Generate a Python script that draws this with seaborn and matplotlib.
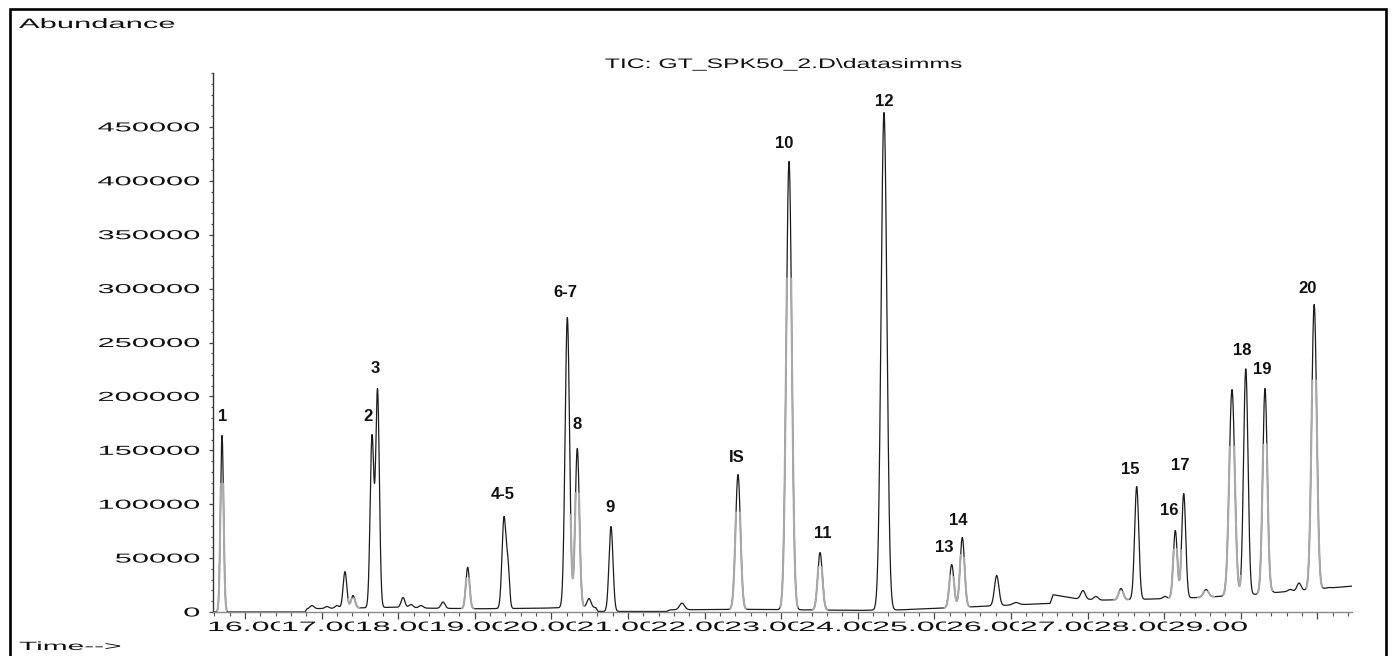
import numpy as np
import pandas as pd
import seaborn as sns
import matplotlib
matplotlib.use("Agg")
import matplotlib.pyplot as plt
from matplotlib.patheffects import AbstractPathEffect
from matplotlib.transforms import Affine2D
from matplotlib.path import Path
from matplotlib.patches import Rectangle
from matplotlib.ticker import MultipleLocator

# ---------------- data ----------------
# retention time (min), apex abundance, peak sigma (min)
peak_time = [15.700, 16.875, 17.070, 17.201, 17.305, 17.410, 17.658, 17.730,
             18.063, 18.167, 18.298, 18.585, 18.907, 19.381, 19.433, 20.208,
             20.338, 20.491, 20.778, 21.705, 22.436, 23.102, 23.507, 24.342,
             25.226, 25.364, 25.813, 26.065, 26.940, 27.110, 27.436, 27.641,
             28.010, 28.145, 28.255, 28.546, 28.885, 29.065, 29.316, 29.394,
             29.642, 29.760, 29.958, 30.149]
peak_apex = [163700, 6000, 5100, 6000, 37500, 15300, 164600, 207300,
             13500, 7000, 6000, 9300, 41500, 88600, 50500, 273200,
             151700, 12500, 79300, 8200, 127500, 417900, 55200, 463300,
             44000, 69100, 33900, 8800, 19900, 14400, 21800, 116400,
             14400, 75600, 109900, 20900, 206400, 225600, 207300, 25500,
             20900, 26900, 285200, 22700]
peak_sigma = [0.020, 0.026, 0.026, 0.026, 0.024, 0.026, 0.024, 0.024,
              0.024, 0.026, 0.026, 0.026, 0.024, 0.026, 0.020, 0.029,
              0.027, 0.026, 0.026, 0.033, 0.032, 0.036, 0.030, 0.038,
              0.029, 0.029, 0.029, 0.039, 0.029, 0.029, 0.029, 0.027,
              0.026, 0.026, 0.026, 0.033, 0.036, 0.029, 0.030, 0.026,
              0.026, 0.026, 0.033, 0.026]
# baseline anchor points (min, abundance)
base_time = [15.582, 16.783, 16.810, 17.240, 18.020, 18.420, 19.070, 19.850,
             20.440, 20.580, 20.610, 21.500, 21.550, 22.460, 23.250, 24.030,
             24.550, 25.070, 25.860, 26.510, 26.550, 26.840, 27.160, 27.810,
             28.470, 29.120, 29.770, 30.452]
base_level = [0, 0, 3000, 3500, 4500, 3500, 3000, 3500,
              4500, 4000, 500, 500, 2000, 2500, 2000, 1500,
              2000, 3500, 6000, 8000, 16000, 12500, 11000, 12000,
              13500, 16000, 20000, 24000]
# compound labels and the peak (index) they belong to
label_text = ["1", "2", "3", "4-5", "6-7", "8", "9", "IS", "10", "11", "12",
              "13", "14", "15", "16", "17", "18", "19", "20"]
label_peak = [0, 6, 7, 13, 15, 16, 18, 20, 21, 22, 23,
              24, 25, 31, 33, 34, 37, 38, 42]
x_tick_minutes = list(range(16, 30))
y_tick_values = list(range(0, 450001, 50000))
title_text = "TIC: GT_SPK50_2.D\\datasimms"

# ---------------- styles / layout ----------------
gray_peaks = {0, 5, 12, 16, 20, 21, 22, 24, 25, 30, 33, 35, 36, 38, 42}
label_offset_px = [(1, -19), (-4, -18), (-2, -20), (-1, -22), (-2, -25), (0, -24),
                   (-1, -19), (-1, -17), (-5, -18), (3, -19), (0, -11), (-7, -17),
                   (-4, -17), (-6, -17), (-6, -20), (-3, -28), (-4, -18), (-3, -19),
                   (-7, -16)]
W, H = 1396, 656


class Stretch(AbstractPathEffect):
    """Draw text horizontally stretched (text stays a real Text artist)."""
    def __init__(self, sx, anchor="left", bg=None):
        super().__init__((0, 0))
        self.sx, self.anchor, self.bg = sx, anchor, bg

    def draw_path(self, renderer, gc, tpath, affine, rgbFace=None):
        ext = tpath.get_extents()
        if self.anchor == "right":
            x0 = ext.x1
        elif self.anchor == "center":
            x0 = 0.5 * (ext.x0 + ext.x1)
        else:
            x0 = 0.0
        tr = Affine2D().translate(-x0, 0).scale(self.sx, 1).translate(x0, 0) + affine
        if self.bg is not None:
            h = ext.y1 - ext.y0
            bx0, bx1 = -0.02 * h, ext.x1 + 0.02 * h
            by0, by1 = ext.y0 - 0.15 * h, ext.y1 + 0.15 * h
            rect = Path([[bx0, by0], [bx1, by0], [bx1, by1], [bx0, by1], [bx0, by0]], closed=True)
            gc0 = renderer.new_gc()
            gc0.copy_properties(gc)
            gc0.set_linewidth(0)
            renderer.draw_path(gc0, rect, tr, (1, 1, 1))
        renderer.draw_path(gc, tpath, tr, rgbFace)


sns.set_theme(style="white")
plt.rcParams["font.family"] = ["Liberation Sans", "DejaVu Sans"]

# ---------------- build the trace ----------------
pt = np.array(peak_time)
pa = np.array(peak_apex, float)
ps = np.array(peak_sigma)
bt = np.array(base_time)
bl = np.array(base_level, float)

G = np.exp(-0.5 * ((pt[:, None] - pt[None, :]) / ps[None, :]) ** 2)
amp = np.linalg.solve(G, pa - np.interp(pt, bt, bl))

t = np.arange(bt[0], bt[-1], 0.002)
base = np.interp(t, bt, bl)
sig = base + (amp[None, :] * np.exp(-0.5 * ((t[:, None] - pt[None, :]) / ps[None, :]) ** 2)).sum(axis=1)
df = pd.DataFrame({"t": t, "a": sig})

mask = np.zeros_like(t, dtype=bool)
for i in gray_peaks:
    reg = np.abs(t - pt[i]) < 3.2 * ps[i]
    low = sig < np.interp(pt[i], bt, bl) + 0.75 * amp[i]
    mask |= reg & low
run = np.cumsum(np.r_[True, mask[1:] != mask[:-1]])
dg = df[mask].assign(seg=run[mask])

# ---------------- figure ----------------
fig = plt.figure(figsize=(W / 100, H / 100), dpi=100)
fig.patch.set_facecolor("white")
ax = fig.add_axes([213 / W, 1 - 612 / H, (1352 - 213) / W, (612 - 73) / H])
ax.set_facecolor("white")

sns.lineplot(data=df, x="t", y="a", color="#1c1c1c", lw=0.9, estimator=None,
             sort=False, ax=ax, legend=False)
sns.lineplot(data=dg, x="t", y="a", units="seg", color="#a9a9a9", lw=1.5,
             estimator=None, sort=False, ax=ax, legend=False)

ax.set_xlim(15.5822, 30.4517)
ax.set_ylim(0, 500000)
ax.set_xlabel("")
ax.set_ylabel("")
ax.grid(False)
for s in ("top", "right"):
    ax.spines[s].set_visible(False)
ax.spines["left"].set_color("#333333")
ax.spines["left"].set_linewidth(1.0)
ax.spines["bottom"].set_color("#8a8a8a")
ax.spines["bottom"].set_linewidth(1.0)

ax.set_xticks(np.arange(16, 31, 1.0))
ax.xaxis.set_minor_locator(MultipleLocator(0.2))
ax.tick_params(axis="x", which="major", length=5, width=0.9, color="#444444",
               labelbottom=False, direction="out", bottom=True)
ax.tick_params(axis="x", which="minor", length=2.8, width=0.8, color="#555555",
               direction="out", bottom=True)

ax.set_yticks(y_tick_values)
ax.set_yticklabels([str(v) for v in y_tick_values])
ax.yaxis.set_minor_locator(MultipleLocator(10000))
ax.tick_params(axis="y", which="major", length=2.6, width=0.9, color="#444444",
               labelsize=9.36, pad=7, direction="out", left=True, labelcolor="#111111")
ax.tick_params(axis="y", which="minor", length=1.6, width=0.8, color="#555555",
               direction="out", left=True)
for lab in ax.get_yticklabels():
    lab.set_path_effects([Stretch(2.37, "right")])

# x tick labels (printed left-to-right, each overlapping the previous one)
for i, m in enumerate(x_tick_minutes):
    fig.text((207 + i * 73.9) / W, 1 - 631 / H, f"{m}.00", ha="left", va="baseline",
             fontsize=9.8, color="#111111",
             path_effects=[Stretch(2.36, "left", bg="white")])

# peak labels
for txt, pi, (dx, dy) in zip(label_text, label_peak, label_offset_px):
    ax.annotate(txt, xy=(pt[pi], pa[pi]), xytext=(dx * 0.72, -dy * 0.72),
                textcoords="offset points", ha="center", va="center",
                fontsize=12, fontweight="bold", color="#111111")

fig.text(783.5 / W, 1 - 64 / H, title_text, ha="center", va="center",
         fontsize=9.9, color="#111111", path_effects=[Stretch(1.8, "center")])
fig.text(19 / W, 1 - 28 / H, "Abundance", ha="left", va="baseline",
         fontsize=9.9, color="#111111", path_effects=[Stretch(2.25, "left")])
fig.text(19 / W, 1 - 650 / H, "Time-->", ha="left", va="baseline",
         fontsize=8.6, color="#111111", path_effects=[Stretch(2.5, "left")])

# outer frame of the printout (its bottom edge lies below the page)
fig.patches.append(Rectangle((9.5 / W, -0.05), (1385.5 - 9.5) / W, 1.05 - 9.5 / H,
                             transform=fig.transFigure, fill=False,
                             edgecolor="black", linewidth=1.9, clip_on=False))

fig.savefig("out.png", dpi=100)
